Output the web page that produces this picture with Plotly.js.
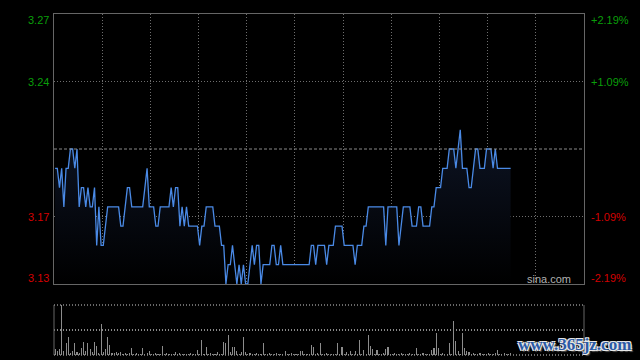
<!DOCTYPE html>
<html><head><meta charset="utf-8">
<script src="https://cdn.plot.ly/plotly-3.0.1.min.js"></script>
<style>html,body{margin:0;padding:0;background:#000;}#chart{width:640px;height:360px;}</style>
</head><body><div id="chart"></div>
<script>
const prevClose = 3.20;
const priceLevels = [3.13, 3.165, 3.235, 3.27];
const priceLabels = ['3.13', '3.17', '3.24', '3.27'];
const pctLabels = ['-2.19%', '-1.09%', '+1.09%', '+2.19%'];
const volumeGrid = [50];

const prices = [
  3.19,3.19,3.18,3.19,3.17,3.19,3.19,3.20,3.20,3.19,
  3.20,3.17,3.18,3.18,3.17,3.18,3.17,3.17,3.18,3.15,
  3.17,3.15,3.15,3.16,3.17,3.17,3.17,3.17,3.17,3.17,
  3.16,3.16,3.17,3.18,3.18,3.17,3.17,3.17,3.17,3.17,
  3.17,3.18,3.19,3.17,3.17,3.17,3.16,3.16,3.17,3.17,
  3.17,3.17,3.17,3.18,3.17,3.18,3.18,3.16,3.17,3.16,
  3.17,3.16,3.16,3.16,3.16,3.16,3.15,3.16,3.16,3.17,
  3.17,3.17,3.17,3.16,3.16,3.16,3.15,3.15,3.13,3.14,
  3.14,3.15,3.14,3.13,3.14,3.13,3.14,3.13,3.13,3.14,
  3.15,3.14,3.15,3.15,3.13,3.14,3.14,3.14,3.14,3.15,
  3.15,3.14,3.14,3.15,3.14,3.14,3.14,3.14,3.14,3.14,
  3.14,3.14,3.14,3.14,3.14,3.14,3.14,3.15,3.15,3.14,
  3.15,3.15,3.15,3.15,3.14,3.15,3.15,3.15,3.16,3.16,
  3.16,3.16,3.15,3.15,3.15,3.15,3.15,3.14,3.15,3.15,
  3.15,3.16,3.16,3.17,3.17,3.17,3.17,3.17,3.17,3.17,
  3.17,3.15,3.17,3.17,3.17,3.17,3.17,3.15,3.16,3.17,
  3.17,3.17,3.17,3.16,3.16,3.16,3.17,3.17,3.16,3.16,
  3.16,3.16,3.17,3.17,3.18,3.18,3.18,3.19,3.19,3.19,
  3.20,3.20,3.20,3.19,3.20,3.21,3.19,3.19,3.19,3.18,
  3.18,3.19,3.20,3.20,3.19,3.19,3.19,3.20,3.20,3.20,
  3.19,3.20,3.19,3.19,3.19,3.19,3.19,3.19,3.19
];

const volumes = [
  11,7,11,100,7,23,36,3,7,23,
  6,3,13,26,7,23,11,5,26,17,
  3,62,5,11,36,19,3,4,5,3,
  5,2,3,2,3,13,2,3,2,2,
  13,2,3,7,2,2,3,2,2,17,
  2,3,2,2,2,5,2,3,2,2,
  2,2,3,2,2,9,2,30,2,15,
  2,3,2,2,5,2,2,26,23,40,
  6,15,15,7,2,5,36,5,2,3,
  2,2,3,2,2,23,2,2,3,2,
  2,3,2,2,2,7,2,2,3,2,
  2,2,7,7,2,2,2,19,15,2,
  3,23,2,2,3,2,2,2,2,23,
  2,15,2,5,2,8,2,7,2,30,
  2,9,2,40,17,11,2,9,2,2,
  3,11,15,2,2,3,2,2,3,2,
  2,2,3,2,2,13,2,2,3,2,
  2,2,9,13,44,13,2,3,2,2,
  23,2,68,28,7,2,44,13,7,5,
  2,3,2,2,3,2,2,2,3,2,
  2,3,9,2,2,3,2,2,3
];

const minutes = prices.map((_, i) => i);
const FONT = 'Liberation Sans, Arial, sans-serif';
const GRID = '#6e6e6e';
const BORDER = '#666666';

const traces = [
  {
    type: 'scatter', mode: 'lines', x: minutes, y: prices, xaxis: 'x', yaxis: 'y',
    line: {color: '#4a8ae6', width: 1.3, shape: 'linear'},
    fill: 'tozeroy',
    fillcolor: 'rgba(12,18,32,1)',
    fillgradient: {type: 'vertical', colorscale: [[0, 'rgb(0,0,0)'], [1, 'rgb(13,20,36)']], start: 3.13, stop: 3.21},
    hoverinfo: 'skip'
  },
  {
    type: 'bar', x: minutes, y: volumes, xaxis: 'x2', yaxis: 'y2',
    width: 0.5, marker: {color: '#8c8c8c', line: {width: 0}}, hoverinfo: 'skip'
  }
];

const annotations = [];
priceLevels.forEach((v, k) => {
  const col = v > prevClose ? '#0a9e0a' : '#d40000';
  const ys = k === priceLevels.length - 1 ? -6 : (k === 0 ? 6 : 0);
  annotations.push({xref: 'x domain', yref: 'y', x: 0, y: v, xanchor: 'right', yanchor: 'middle',
    xshift: -3, yshift: ys, text: priceLabels[k], showarrow: false, font: {family: FONT, size: 11, color: col}});
  annotations.push({xref: 'x domain', yref: 'y', x: 1, y: v, xanchor: 'left', yanchor: 'middle',
    xshift: 5, yshift: ys, text: pctLabels[k], showarrow: false, font: {family: FONT, size: 11, color: col}});
});
annotations.push({xref: 'x domain', yref: 'y domain', x: 0.98, y: 0, xanchor: 'right', yanchor: 'middle',
  yshift: 5, text: 'sina.com', showarrow: false, font: {family: FONT, size: 11, color: '#b0b0b0'}});
annotations.push({xref: 'paper', yref: 'paper', x: 0.983, y: 0.03, xanchor: 'center', yanchor: 'middle',
  text: 'www.365jz.com', showarrow: false,
  font: {family: 'Liberation Serif, Times New Roman, serif', size: 17, color: '#2b5aa6', weight: 'bold',
    shadow: '1px 1px 0 #e8e8e8, -1px -1px 0 #e8e8e8, 1px -1px 0 #e8e8e8, -1px 1px 0 #e8e8e8, 2px 2px 1px #555'}});

const shapes = [
  {type: 'line', xref: 'x domain', yref: 'y', x0: 0, x1: 1, y0: prevClose, y1: prevClose,
    line: {color: '#8a8a8a', width: 1, dash: '3px,2px'}},
  {type: 'line', xref: 'x2 domain', yref: 'y2 domain', x0: 0, x1: 0, y0: 0, y1: 1, line: {color: BORDER, width: 1}},
  {type: 'line', xref: 'x2 domain', yref: 'y2 domain', x0: 1, x1: 1, y0: 0, y1: 1, line: {color: BORDER, width: 1}},
  {type: 'line', xref: 'x2 domain', yref: 'y2 domain', x0: 0, x1: 1, y0: 1, y1: 1, line: {color: '#8a8a8a', width: 1.5, dash: '1px,2px'}},
  {type: 'line', xref: 'x2 domain', yref: 'y2 domain', x0: 0, x1: 1, y0: 0, y1: 0, line: {color: '#8a8a8a', width: 1.5, dash: '1px,2px'}}
];

const layout = {
  width: 640, height: 360,
  margin: {l: 54, r: 56, t: 14, b: 5},
  paper_bgcolor: '#000', plot_bgcolor: '#000',
  showlegend: false, bargap: 0,
  xaxis: {domain: [0, 1], range: [-0.5, 241.5], tick0: -0.5, dtick: 22, showgrid: true,
    gridcolor: GRID, griddash: '1px,2px', gridwidth: 1, showticklabels: false, ticks: '',
    zeroline: false, showline: true, mirror: true, linecolor: BORDER, linewidth: 1, anchor: 'y'},
  yaxis: {domain: [0.2082, 1], range: [3.13, 3.27], tickvals: priceLevels, showgrid: true,
    gridcolor: GRID, griddash: '1px,2px', gridwidth: 1, showticklabels: false, ticks: '',
    zeroline: false, showline: true, mirror: true, linecolor: BORDER, linewidth: 1, anchor: 'x'},
  xaxis2: {domain: [0, 1], range: [-0.5, 241.5], showgrid: false, showticklabels: false, ticks: '',
    zeroline: false, showline: false, anchor: 'y2'},
  yaxis2: {domain: [0, 0.1466], range: [0, 100], tickvals: volumeGrid, showgrid: true,
    gridcolor: '#8a8a8a', griddash: '1px,2px', gridwidth: 1.5, showticklabels: false, ticks: '',
    zeroline: false, showline: false, anchor: 'x2'},
  annotations: annotations,
  shapes: shapes
};

Plotly.newPlot('chart', traces, layout, {staticPlot: true, displayModeBar: false});
</script>
</body></html>
